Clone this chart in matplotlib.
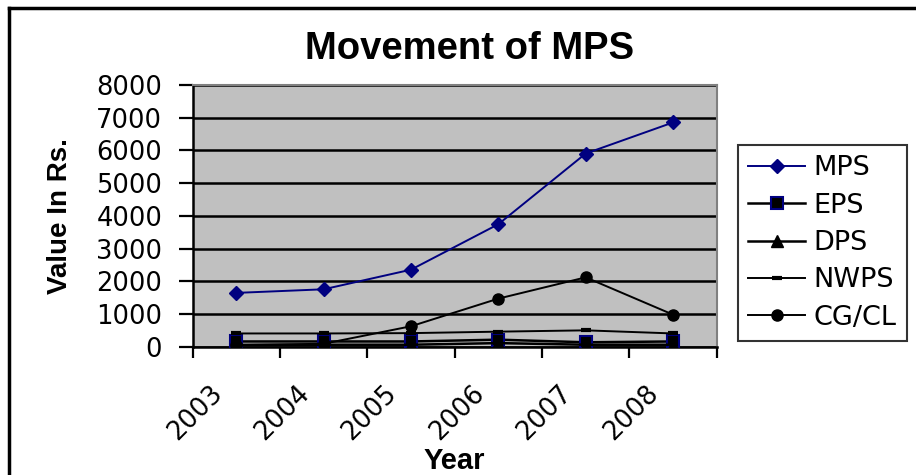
import numpy as np
import matplotlib
matplotlib.use('Agg')
import matplotlib.pyplot as plt
from matplotlib.lines import Line2D
from matplotlib.transforms import ScaledTranslation

# 数据
years = ['2003', '2004', '2005', '2006', '2007', '2008']
mps = [1645, 1755, 2355, 3745, 5905, 6855]
eps = [160, 160, 160, 215, 135, 160]
dps = [55, 60, 60, 110, 60, 60]
nwps = [405, 405, 415, 460, 500, 405]
cgcl = [50, 90, 625, 1470, 2120, 980]

W, H = 916, 475
fig = plt.figure(figsize=(W / 100, H / 100), dpi=100)
fig.patch.set_facecolor('white')

# 绘图区
left, right, top, bottom = 192.7, 716.7, 85, 346.7
ax = fig.add_axes([left / W, 1 - bottom / H, (right - left) / W, (bottom - top) / H])
ax.set_facecolor('#c0c0c0')

x = np.arange(len(years)) + 0.5
ax.plot(x, mps, color='#000080', lw=1.4, marker='D', ms=7, mfc='#000080', mec='#000080', label='MPS', zorder=5)
ax.plot(x, eps, color='black', lw=1.8, marker='s', ms=8, mfc='black', mec='#000080', mew=1.5, label='EPS', zorder=4)
ax.plot(x, dps, color='black', lw=1.8, marker='^', ms=8, mfc='black', mec='black', label='DPS', zorder=4)
ax.plot(x, nwps, color='black', lw=1.4, marker='_', ms=7, mew=3, mec='black', label='NWPS', zorder=4)
ax.plot(x, cgcl, color='black', lw=1.4, marker='o', ms=8, mfc='black', mec='black', label='CG/CL', zorder=4)

ax.set_xlim(0, len(years))
ax.set_ylim(0, 8000)
ax.set_yticks(np.arange(0, 8001, 1000))
ax.yaxis.grid(True, color='black', lw=1.8)
ax.set_axisbelow(True)

# x轴: 主刻度在类别边界, 次刻度放标签
ax.set_xticks(np.arange(len(years) + 1))
ax.set_xticklabels([])
ax.set_xticks(x, minor=True)
ax.set_xticklabels(years, minor=True, rotation=45, ha='right', va='center',
                   rotation_mode='anchor', fontsize=18.5, family='DejaVu Sans')
ax.tick_params(axis='x', which='major', direction='out', length=8, width=1.6, color='black')
ax.tick_params(axis='x', which='minor', length=0, pad=31)
for lab in ax.get_xticklabels(minor=True):
    lab.set_transform(lab.get_transform() + ScaledTranslation(-0.18, 0, fig.dpi_scale_trans))

ax.tick_params(axis='y', direction='out', length=10, width=1.6, color='black', pad=12)
for lab in ax.get_yticklabels():
    lab.set_fontsize(18.5)
    lab.set_family('DejaVu Sans')

for s in ['left', 'bottom']:
    ax.spines[s].set_color('black')
    ax.spines[s].set_linewidth(1.8)
for s in ['top', 'right']:
    ax.spines[s].set_color('#808080')
    ax.spines[s].set_linewidth(1.5)

ax.set_ylabel('Value In Rs.', fontsize=20, fontweight='bold', family='Liberation Sans')
ax.yaxis.set_label_coords(-0.228, 0.5)
ax.set_xlabel('Year', fontsize=21, fontweight='bold', family='Liberation Sans')
ax.xaxis.set_label_coords(0.5, -0.385)

fig.text(470 / W, 1 - 59 / H, 'Movement of MPS', fontsize=27.5, fontweight='bold',
         family='Liberation Sans', ha='center', va='baseline')

# 图例
leg = fig.legend(loc='upper left', bbox_to_anchor=(738 / W, 1 - 145 / H),
                 bbox_transform=fig.transFigure, frameon=True, fancybox=False,
                 edgecolor='black', prop={'family': 'DejaVu Sans', 'size': 19.5},
                 handlelength=2.1, handletextpad=0.3, labelspacing=0.42,
                 borderpad=0.38, borderaxespad=0)
leg.get_frame().set_linewidth(1.5)

# 外框
fig.add_artist(Line2D([9 / W, 9 / W], [0, 1 - 8 / H], transform=fig.transFigure, color='black', lw=2.5))
fig.add_artist(Line2D([9 / W, 1], [1 - 8 / H, 1 - 8 / H], transform=fig.transFigure, color='black', lw=2.5))

fig.savefig('out.png', dpi=100)
